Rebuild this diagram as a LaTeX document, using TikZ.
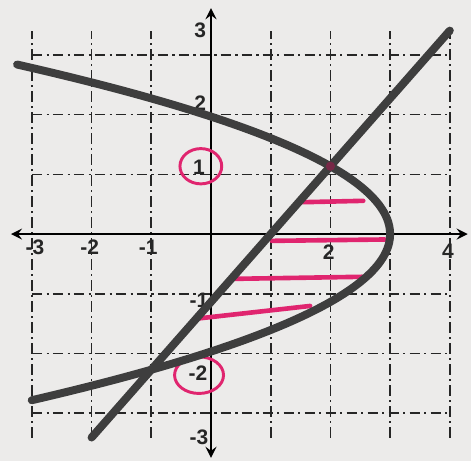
\documentclass[tikz,border=0pt]{standalone}
\usepackage{fontspec}
\setmainfont{Liberation Sans}
\usepackage{tikz}
\definecolor{hwink}{HTML}{3E3E3E}
\definecolor{hwpink}{HTML}{E0256F}
\definecolor{hwpaper}{HTML}{ECEBEA}
\tikzset{
  gridline/.style={black!85,line width=0.8pt,dash pattern=on 5pt off 2pt on 1pt off 2pt},
  axisline/.style={black,line width=1.3pt,<->,>=stealth},
  curveline/.style={hwink,line width=3.8pt,line cap=round},
  shadeline/.style={hwpink,line width=2.2pt,line cap=round},
  ticklabel/.style={font=\bfseries,text=black!85,inner sep=1pt},
  markring/.style={hwpink,line width=1.4pt}
}
\begin{document}
\begin{tikzpicture}[x=1cm,y=1.136cm]
    \fill[hwpaper] (-3.534,-3.348) rectangle (4.355,3.451);
    \useasboundingbox (-3.534,-3.348) rectangle (4.355,3.451);
    \draw[gridline] (-3,-3) grid (4,3);
    \draw[axisline] (-3.35,0) -- (4.3,0);
    \draw[axisline] (0,-3.3) -- (0,3.33);
    \node[ticklabel] (xlabm3) at (-2.95,-0.2) {-3};
    \node[ticklabel] (xlabm2) at (-2.03,-0.2) {-2};
    \node[ticklabel] (xlabm1) at (-1.05,-0.2) {-1};
    \node[ticklabel] (xlab2) at (1.97,-0.26) {2};
    \node[ticklabel] (xlab4) at (3.97,-0.26) {4};
    \node[ticklabel] (ylab3) at (-0.18,3) {3};
    \node[ticklabel] (ylab2) at (-0.18,1.93) {2};
    \node[ticklabel] (ylab1) at (-0.2,0.98) {1};
    \node[ticklabel] (ylabm1) at (-0.2,-0.98) {-1};
    \node[ticklabel] (ylabm2) at (-0.22,-2.05) {-2};
    \node[ticklabel] (ylabm3) at (-0.2,-3.0) {-3};
    \draw[markring] (-0.17,1.0) ellipse (0.35 and 0.26);
    \draw[markring] (-0.2,-2.08) ellipse (0.41 and 0.27);
    \draw[shadeline] (1.54,0.47) -- (2.55,0.49);
    \draw[shadeline] (1.02,-0.1) -- (2.91,-0.08);
    \draw[shadeline] (0.4,-0.66) -- (2.53,-0.63);
    \draw[shadeline] (-0.27,-1.25) -- (1.66,-1.06);
    \draw[curveline] plot[domain=-2.45:2.5,samples=80,smooth,variable=\t] ({3-\t*\t},\t);
    \draw[curveline] (-2,-3) -- (4,3);
    \fill[hwpink!70!black,opacity=0.6] (2,1) circle (2.2pt);
  \end{tikzpicture}
\end{document}
